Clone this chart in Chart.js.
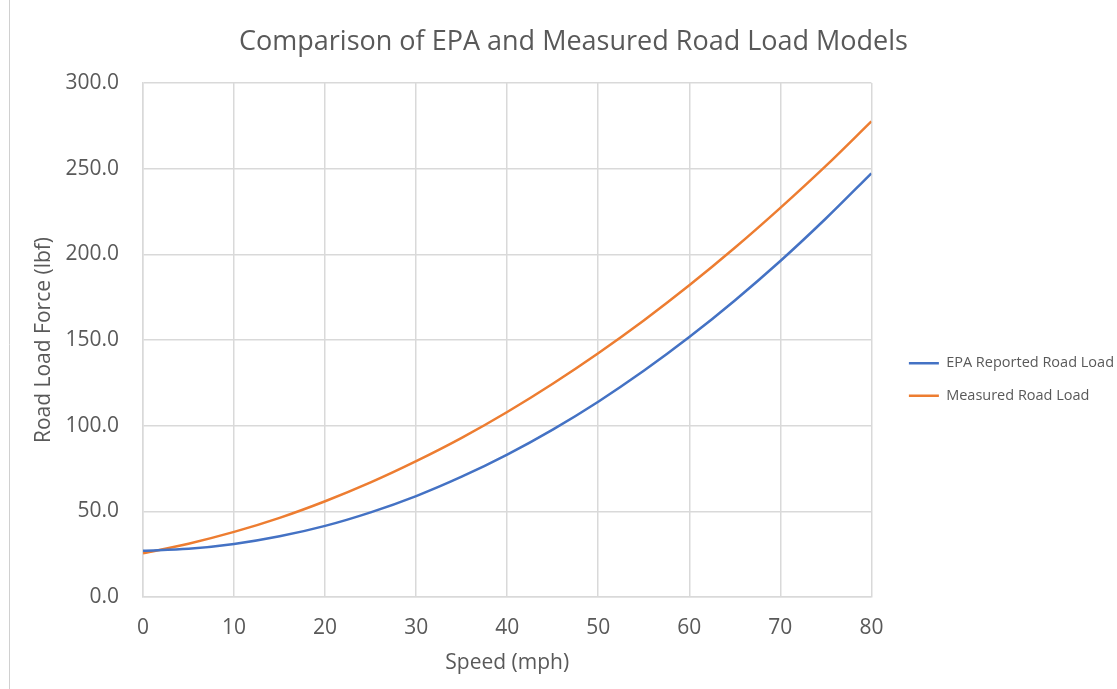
<!DOCTYPE html>
<html>
<head>
<meta charset="utf-8">
<script src="https://cdn.jsdelivr.net/npm/chart.js@4"></script>
<style>
  body { margin: 0; background: #fff; }
  #wrap { width: 1117px; height: 689px; }
</style>
</head>
<body>
<div id="wrap"><canvas id="roadLoad" width="1117" height="689"></canvas></div>
<script>
// speed in mph, road load force in lbf
const speeds = [0, 5, 10, 15, 20, 25, 30, 35, 40, 45, 50, 55, 60, 65, 70, 75, 80];
const epa_load = [27.0, 28.1, 30.9, 35.4, 41.5, 49.4, 58.9, 70.2, 83.1, 97.7, 114.0, 132.0, 151.7, 173.1, 196.1, 220.9, 247.3];
const measured_load = [25.5, 31.1, 38.0, 46.2, 55.9, 66.9, 79.3, 92.9, 108.0, 124.5, 142.3, 161.4, 181.9, 203.8, 227.1, 251.6, 277.6];
const series_names = ['EPA Reported Road Load', 'Measured Road Load'];

const FONT = 'Open Sans';
const GREY = '#595959';
const GRID = '#d9d9d9';

function toPoints(ys) {
  return speeds.map((s, i) => ({ x: s, y: ys[i] }));
}

// thin grey edge on the left of the picture
const edgeLine = {
  id: 'edgeLine',
  beforeDraw(chart) {
    const c = chart.ctx;
    c.save();
    c.fillStyle = '#fff';
    c.fillRect(0, 0, chart.width, chart.height);
    c.strokeStyle = '#d0d0d0';
    c.lineWidth = 1;
    c.beginPath();
    c.moveTo(9.5, 0);
    c.lineTo(9.5, chart.height);
    c.stroke();
    c.restore();
  }
};

var ctx = document.getElementById('roadLoad').getContext('2d');
var chart = new Chart(ctx, {
  type: 'line',
  data: {
    datasets: [{
      label: series_names[0],
      data: toPoints(epa_load),
      borderColor: '#4472C4',
      backgroundColor: '#4472C4',
      borderWidth: 2.5,
      pointRadius: 0,
      cubicInterpolationMode: 'monotone'
    }, {
      label: series_names[1],
      data: toPoints(measured_load),
      borderColor: '#ED7D31',
      backgroundColor: '#ED7D31',
      borderWidth: 2.5,
      pointRadius: 0,
      cubicInterpolationMode: 'monotone'
    }]
  },
  plugins: [edgeLine],
  options: {
    responsive: false,
    animation: false,
    layout: { padding: { left: 23, right: -7, top: 0, bottom: 13 } },
    scales: {
      x: {
        type: 'linear',
        min: 0,
        max: 80,
        ticks: { stepSize: 10, maxRotation: 0, minRotation: 0, color: GREY, font: { family: FONT, size: 21 }, padding: 18 },
        grid: { color: GRID, lineWidth: 1.5, drawTicks: false },
        border: { color: GRID, width: 1.5 },
        title: { display: true, text: 'Speed (mph)', color: GREY, font: { family: FONT, size: 21 }, padding: { top: 0, bottom: 0 } },
        afterFit(s) { s.height = 79; }
      },
      y: {
        min: 0,
        max: 300,
        ticks: {
          stepSize: 50, color: GREY, font: { family: FONT, size: 21 }, padding: 24,
          callback: v => v.toFixed(1)
        },
        grid: { color: GRID, lineWidth: 1.5, drawTicks: false },
        border: { color: GRID, width: 1.5 },
        title: { display: true, text: 'Road Load Force (lbf)', color: GREY, font: { family: FONT, size: 21 }, padding: { top: 8.4, bottom: 0 } },
        afterFit(s) { s.width = 120; }
      },
      // empty spacer between plot and legend
      gap: {
        type: 'linear',
        position: 'right',
        display: true,
        grid: { display: false },
        border: { display: false },
        ticks: { display: false },
        afterFit(s) { s.width = 19.5; }
      }
    },
    plugins: {
      title: {
        display: true,
        text: 'Comparison of EPA and Measured Road Load Models',
        color: GREY,
        font: { family: FONT, size: 27, weight: 'normal' },
        padding: { top: 26, bottom: 24.6 }
      },
      legend: {
        display: true,
        position: 'right',
        maxWidth: 320,
        title: { display: true, text: '', font: { size: 10 }, padding: { top: 71, bottom: 0 } },
        labels: {
          color: GREY,
          font: { family: FONT, size: 14.5 },
          usePointStyle: true,
          pointStyle: 'line',
          pointStyleWidth: 30,
          boxWidth: 30,
          padding: 18
        }
      },
      tooltip: { enabled: false }
    }
  }
});
</script>
</body>
</html>
